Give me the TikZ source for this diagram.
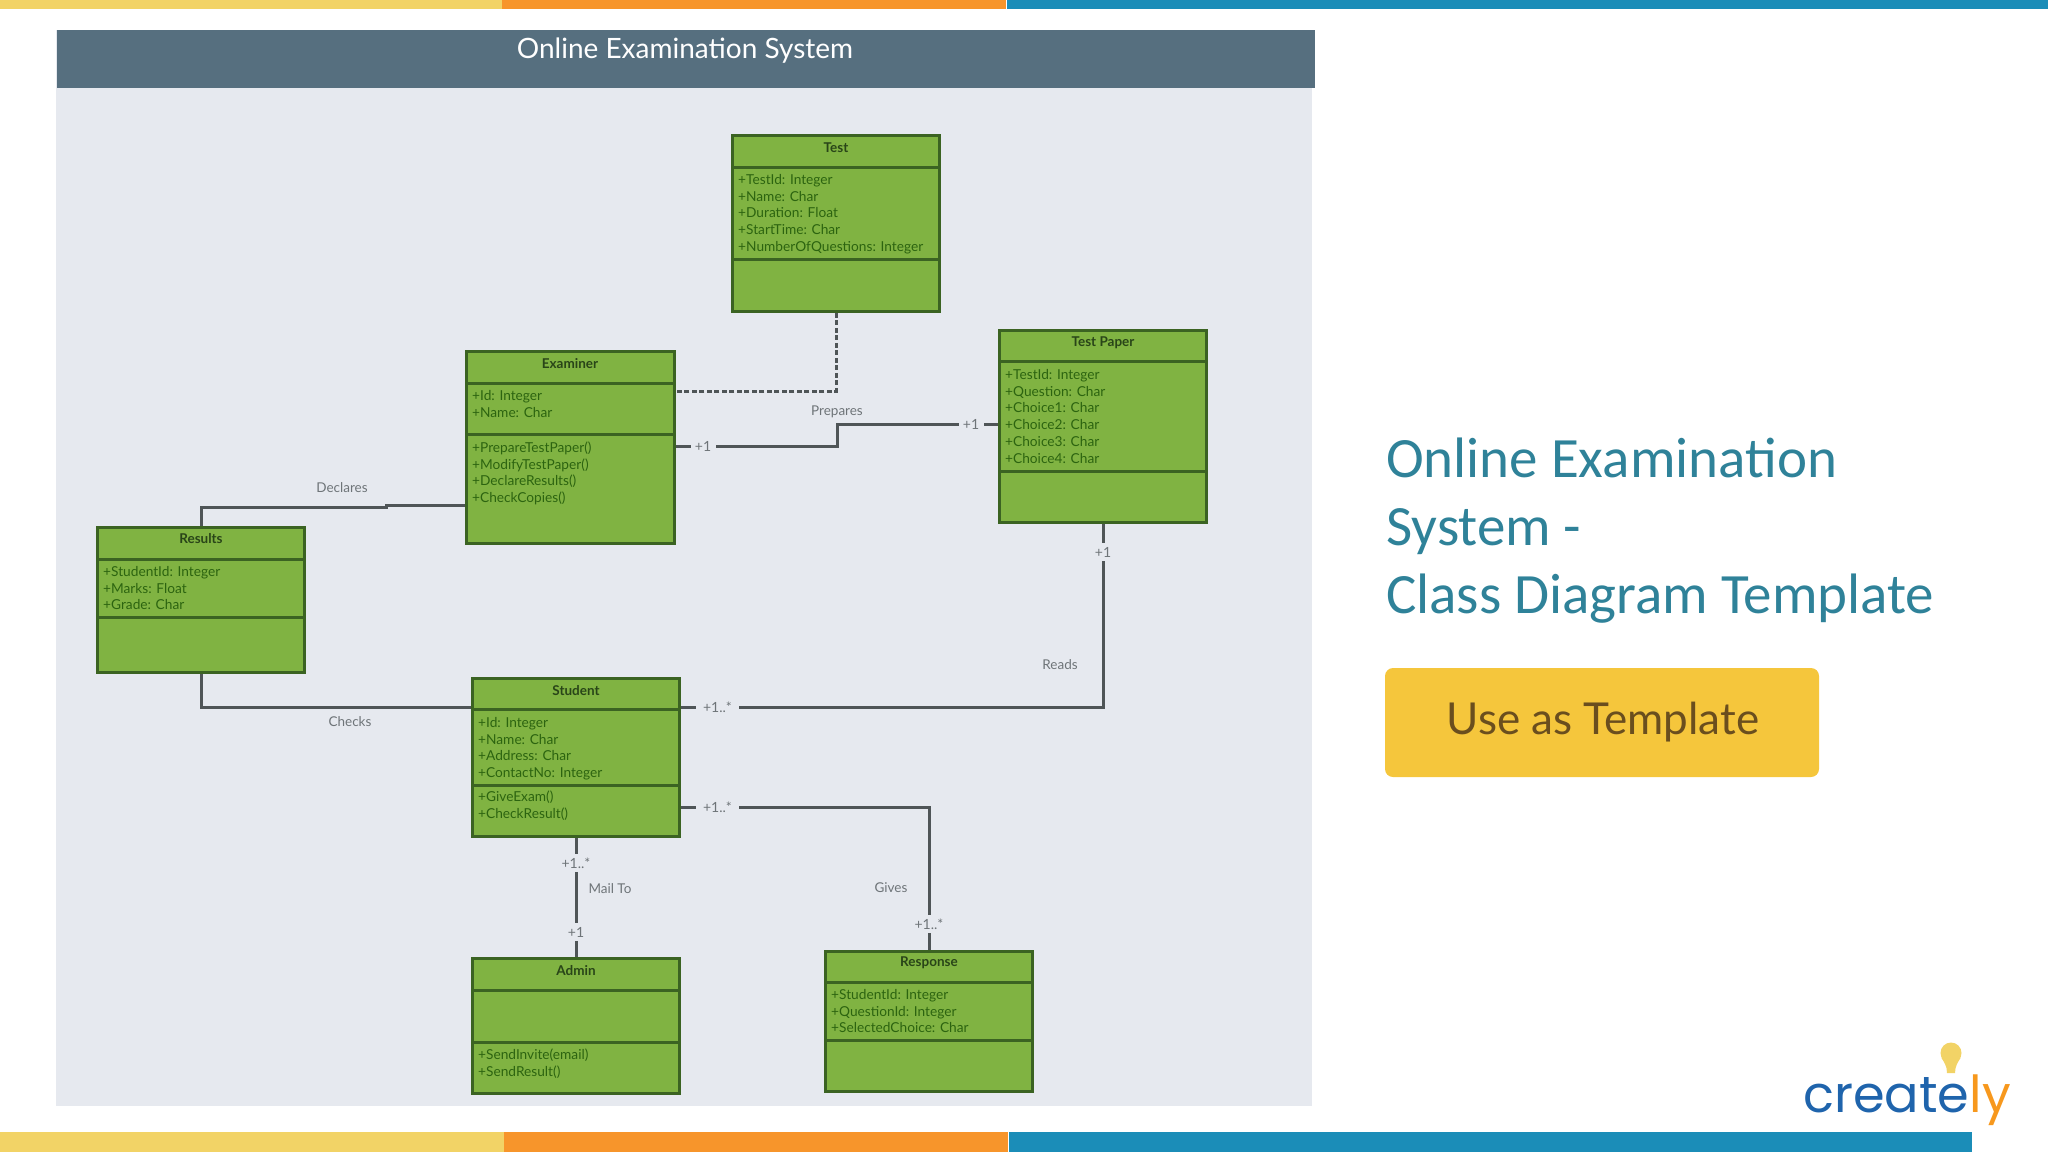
\documentclass[tikz,border=0pt]{standalone}
\usepackage{fontspec}
\setmainfont{Lato}
\newfontfamily\slidefont{Carlito}
\newfontfamily\logofont{Poppins}
\usepackage{tikz}
\usetikzlibrary{positioning,calc}
\definecolor{panelbg}{HTML}{E6E9EF}
\definecolor{headerbg}{HTML}{566F7F}
\definecolor{classgreen}{HTML}{80B342}
\definecolor{classedge}{HTML}{3B6322}
\definecolor{classtext}{HTML}{2C6410}
\definecolor{linkgrey}{HTML}{4F5557}
\definecolor{labelgrey}{HTML}{6E7478}
\definecolor{slideteal}{HTML}{2F8299}
\definecolor{btnyellow}{HTML}{F5C63C}
\definecolor{btntext}{HTML}{6A4E1E}
\definecolor{baryellow}{HTML}{F2D366}
\definecolor{barorange}{HTML}{F7952B}
\definecolor{barblue}{HTML}{1B8DB8}
\definecolor{logoblue}{HTML}{1F64AC}
\definecolor{logoorange}{HTML}{F7981D}
\tikzset{
  classbox/.style={draw=classedge, fill=classgreen, line width=3pt, rectangle, inner sep=0pt},
  divider/.style={draw=classedge, line width=3pt},
  classname/.style={font=\fontsize{13.5}{16}\selectfont\bfseries, text=classedge!70!black, inner sep=0pt},
  members/.style={font=\fontsize{13.7}{16.8}\selectfont, text=classtext, align=left, anchor=north west, inner sep=0pt},
  link/.style={draw=linkgrey, line width=3pt},
  linklabel/.style={font=\fontsize{13.5}{16}\selectfont, text=labelgrey, inner sep=0pt},
  mult/.style={font=\fontsize{14}{16}\selectfont, text=labelgrey, fill=panelbg, inner sep=0pt, minimum height=18pt},
  bar/.style={draw=none, rectangle, inner sep=0pt}
}
\begin{document}
\begin{tikzpicture}[x=1pt, y=-1pt]
\useasboundingbox (0,0) rectangle (2048,1152);

% colour bars
\node[bar, fill=baryellow, minimum width=502pt, minimum height=9pt] (topa) at (251,4.5) {};
\node[bar, fill=barorange, right=0pt of topa, minimum width=504pt, minimum height=9pt] (topb) {};
\node[bar, fill=barblue, right=0pt of topb, minimum width=1042pt, minimum height=9pt] (topc) {};
\node[bar, fill=baryellow, minimum width=504pt, minimum height=20pt] (bota) at (252,1142) {};
\node[bar, fill=barorange, right=0pt of bota, minimum width=504pt, minimum height=20pt] (botb) {};
\node[bar, fill=barblue, right=0pt of botb, minimum width=963pt, minimum height=20pt] (botc) {};

% panel
\node[bar, fill=panelbg, minimum width=1256pt, minimum height=1076pt] (panel) at (684,568) {};
\node[bar, fill=headerbg, minimum width=1258pt, minimum height=58pt] (header) at (686,59) {};
\node[font=\fontsize{28}{32}\selectfont, text=white, inner sep=0pt] (title) at (685,51) {Online Examination System};

% results
\node[classbox, minimum width=206.5pt, minimum height=144.5pt] (results) at (201,600) {};
\node[classname] (resultsname) at (201,539) {Results};
\draw[divider] (results.west |- 0,559) -- (results.east |- 0,559);
\draw[divider] (results.west |- 0,617) -- (results.east |- 0,617);
\node[members] (resultsattr) at (103,566) {+StudentId: Integer\\+Marks: Float\\+Grade: Char};

% examiner
\node[classbox, minimum width=207.5pt, minimum height=191.5pt] (examiner) at (570.5,447.5) {};
\node[classname] (examinername) at (570,364) {Examiner};
\draw[divider] (examiner.west |- 0,383) -- (examiner.east |- 0,383);
\draw[divider] (examiner.west |- 0,434) -- (examiner.east |- 0,434);
\node[members] (examinerattr) at (472,390) {+Id: Integer\\+Name: Char};
\node[members] (examinerops) at (472,441.5) {+PrepareTestPaper()\\+ModifyTestPaper()\\+DeclareResults()\\+CheckCopies()};

% test
\node[classbox, minimum width=206.5pt, minimum height=175.5pt] (test) at (836,223.5) {};
\node[classname] (testname) at (836,148) {Test};
\draw[divider] (test.west |- 0,167) -- (test.east |- 0,167);
\draw[divider] (test.west |- 0,259) -- (test.east |- 0,259);
\node[members] (testattr) at (738,174) {+TestId: Integer\\+Name: Char\\+Duration: Float\\+StartTime: Char\\+NumberOfQuestions: Integer};

% test paper
\node[classbox, minimum width=206.5pt, minimum height=191.5pt] (testpaper) at (1103,426.5) {};
\node[classname] (testpapername) at (1103,343) {Test Paper};
\draw[divider] (testpaper.west |- 0,361) -- (testpaper.east |- 0,361);
\draw[divider] (testpaper.west |- 0,471) -- (testpaper.east |- 0,471);
\node[members] (testpaperattr) at (1005,369) {+TestId: Integer\\+Question: Char\\+Choice1: Char\\+Choice2: Char\\+Choice3: Char\\+Choice4: Char};

% student
\node[classbox, minimum width=206.5pt, minimum height=157.5pt] (student) at (576,757.5) {};
\node[classname] (studentname) at (576,691) {Student};
\draw[divider] (student.west |- 0,709) -- (student.east |- 0,709);
\draw[divider] (student.west |- 0,785) -- (student.east |- 0,785);
\node[members] (studentattr) at (478,717) {+Id: Integer\\+Name: Char\\+Address: Char\\+ContactNo: Integer};
\node[members] (studentops) at (478,791) {+GiveExam()\\+CheckResult()};

% admin
\node[classbox, minimum width=206.5pt, minimum height=134.5pt] (admin) at (576,1026) {};
\node[classname] (adminname) at (576,971) {Admin};
\draw[divider] (admin.west |- 0,990) -- (admin.east |- 0,990);
\draw[divider] (admin.west |- 0,1042) -- (admin.east |- 0,1042);
\node[members] (adminops) at (478,1049) {+SendInvite(email)\\+SendResult()};

% response
\node[classbox, minimum width=206.5pt, minimum height=139.5pt] (response) at (929,1021.5) {};
\node[classname] (responsename) at (929,963) {Response};
\draw[divider] (response.west |- 0,982) -- (response.east |- 0,982);
\draw[divider] (response.west |- 0,1040) -- (response.east |- 0,1040);
\node[members] (responseattr) at (831,989) {+StudentId: Integer\\+QuestionId: Integer\\+SelectedChoice: Char};

% links
\coordinate (dashrow) at (0,391);
\coordinate (prepL) at (837,446);
\coordinate (prepR) at (837,424);
\coordinate (declR) at (386,505);
\coordinate (declL) at (386,507);
\coordinate (checkrow) at (0,707);
\coordinate (givesrow) at (0,807);
\draw[link, dash pattern=on 5pt off 2.5pt] (test.south) |- (examiner.east |- dashrow);
\draw[link] (examiner.east |- prepL) -- (prepL) -- (prepR) -- (testpaper.west |- prepR);
\draw[link] (examiner.west |- declR) -- (declR) -- (declL) -- (results.north |- declL) -- (results.north);
\draw[link] (results.south) |- (student.west |- checkrow);
\draw[link] (student.east |- checkrow) -| (testpaper.south);
\draw[link] (student.east |- givesrow) -| (response.north);
\draw[link] (student.south) -- (admin.north);

% link labels
\node[linklabel] (prepares) at (837,412) {Prepares};
\node[linklabel] (declares) at (342,488) {Declares};
\node[linklabel] (checks) at (350,722) {Checks};
\node[linklabel] (reads) at (1060,665) {Reads};
\node[linklabel] (gives) at (891,888) {Gives};
\node[linklabel] (mailto) at (610,889) {Mail To};
\node[mult, minimum width=25pt] (multa) at (703,446) {+1};
\node[mult, minimum width=25pt] (multb) at (971,424) {+1};
\node[mult, minimum width=25pt] (multc) at (1103,552) {+1};
\node[mult, minimum width=43pt] (multd) at (717.5,707) {+1..*};
\node[mult, minimum width=43pt] (multe) at (717.5,807) {+1..*};
\node[mult, minimum width=43pt] (multf) at (929,924) {+1..*};
\node[mult, minimum width=40pt] (multg) at (576,863) {+1..*};
\node[mult, minimum width=25pt] (multh) at (576,932) {+1};

% right side
\node[font=\slidefont\fontsize{57}{68}\selectfont, text=slideteal, align=left, anchor=north west, inner sep=0pt] (slidetitle) at (1386,438) {Online Examination\\System -\\Class Diagram Template};
\node[fill=btnyellow, rounded corners=8pt, minimum width=434pt, minimum height=109pt, inner sep=0pt] (usebtn) at (1602,722.5) {};
\node[font=\fontsize{44}{52}\selectfont, text=btntext, inner sep=0pt] (usetext) at (1603,722) {Use as Template};

% logo
\fill[baryellow] (1951,1053) circle (10.5);
\fill[baryellow] (1941.5,1058) .. controls (1944,1062) and (1947,1066) .. (1947,1073) -- (1955,1073) .. controls (1955,1066) and (1958,1062) .. (1960.5,1058) -- cycle;
\node[font=\logofont\fontsize{51}{60}\selectfont, text=logoblue, anchor=base west, inner sep=0pt] (logo) at (1803,1112) {create\textcolor{logoorange}{ly}};
\end{tikzpicture}
\end{document}
